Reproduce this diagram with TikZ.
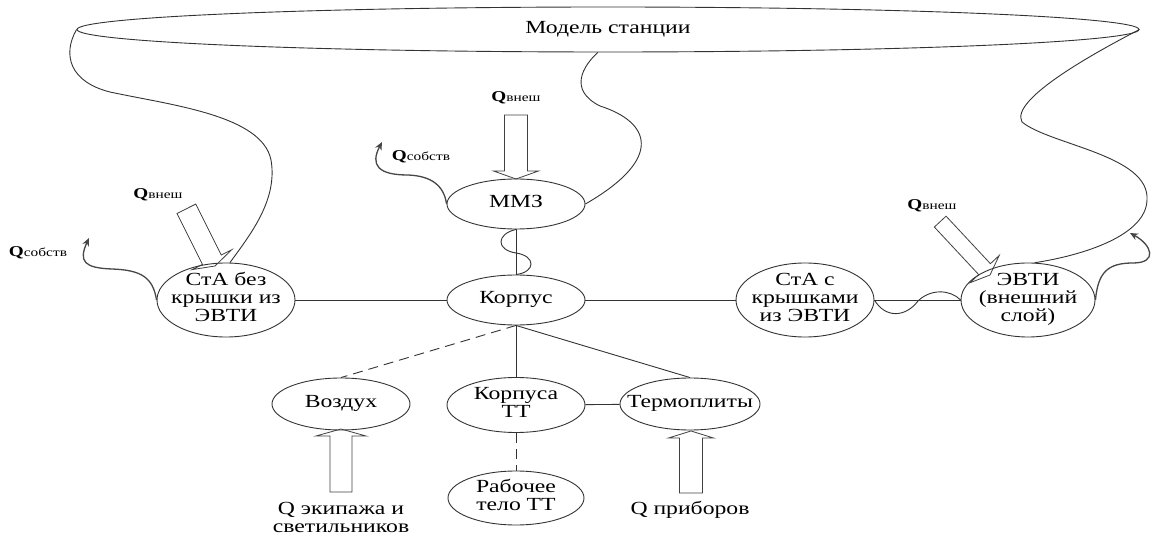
\documentclass[tikz,border=0pt]{standalone}
\usepackage{graphicx}
\usepackage{fontspec}
\setmainfont{Liberation Serif}
\usetikzlibrary{shapes.geometric,arrows.meta}
\newcommand\sx[1]{\scalebox{1.28}[1]{\begin{tabular}{@{}c@{}}#1\end{tabular}}}
\newcommand\qlab[1]{\scalebox{1.28}[1]{{\fontsize{15}{15}\selectfont\bfseries Q}{\fontsize{12}{12}\selectfont #1}}}
\newcommand\barrow[7]{% name, tip, angle, length, shaft half, head half, head length
  \coordinate (#1) at #2;
  \draw[barr, shift={(#1)}, rotate=#3] (0,0) -- (-#7,#6) -- (-#7,#5) -- (-#4,#5) -- (-#4,-#5) -- (-#7,-#5) -- (-#7,-#6) -- cycle;}
\begin{document}
\begin{tikzpicture}[x=1pt,y=-1pt,
  ell/.style={draw=black!80, line width=0.9pt, ellipse, inner sep=0pt},
  txt/.style={font=\fontsize{18.5}{18}\selectfont, inner sep=0pt, text=black},
  qtxt/.style={inner sep=0pt, text=black},
  link/.style={draw=black!80, line width=0.9pt},
  dlink/.style={link, dash pattern=on 10pt off 6pt},
  qself/.style={draw=black!72, line width=1.3pt, -{Stealth[length=8pt,width=7pt]}},
  barr/.style={draw=black!75, line width=0.8pt, line join=miter},
  ]
\useasboundingbox (0,0) rectangle (1152,537);

% nodes
\node[ell, minimum width=1062, minimum height=45, label={[txt]center:\sx{Модель станции}}] (model) at (608,29.5) {};
\node[ell, minimum width=138, minimum height=50, label={[txt]center:\sx{ММЗ}}] (mmz) at (516,204) {};
\node[ell, minimum width=138, minimum height=50, label={[txt]center:\sx{Корпус}}] (korpus) at (516,300) {};
\node[ell, minimum width=138, minimum height=74, label={[txt]center:\sx{СтА без\\крышки из\\ЭВТИ}}] (sta1) at (226,300) {};
\node[ell, minimum width=138, minimum height=74, label={[txt]center:\sx{СтА с\\крышками\\из ЭВТИ}}] (sta2) at (805,300) {};
\node[ell, minimum width=134, minimum height=74, label={[txt]center:\sx{ЭВТИ\\(внешний\\слой)}}] (evti) at (1028,300) {};
\node[ell, minimum width=138, minimum height=52, label={[txt]center:\sx{Воздух}}] (vozduh) at (341,404) {};
\node[ell, minimum width=138, minimum height=55, label={[txt]center:\sx{Корпуса\\ТТ}}] (korpTT) at (516,405) {};
\node[ell, minimum width=140, minimum height=52, label={[txt]center:\sx{Термоплиты}}] (termo) at (690,404) {};
\node[ell, minimum width=136, minimum height=54, label={[txt]center:\sx{Рабочее\\тело ТТ}}] (rabTT) at (516,498) {};

% labels
\node[qtxt] (qv1) at (516,98) {\qlab{внеш}};
\node[qtxt] (qv2) at (158,195) {\qlab{внеш}};
\node[qtxt] (qv3) at (932,206) {\qlab{внеш}};
\node[qtxt] (qs1) at (38,253) {\qlab{собств}};
\node[qtxt] (qs2) at (421,157) {\qlab{собств}};
\node[txt] (qcrew) at (341,519.5) {\sx{Q экипажа и\\светильников}};
\node[txt] (qdev) at (690,511) {\sx{Q приборов}};

% connectors
\draw[link] (sta1) -- (korpus);
\draw[link] (korpus) -- (sta2);
\draw[link] (sta2) -- (evti);
\draw[link] (mmz) -- (korpus);
\draw[link] (sta2.east) .. controls (885,318) and (905,318) .. (918,301)
  .. controls (930,289) and (950,289) .. (evti.west);
\draw[link] (mmz.south) .. controls (496,234) and (496,250) .. (516,253)
  .. controls (536,256) and (536,272) .. (korpus.north);
\draw[dlink] (korpus.south) -- (vozduh.north);
\draw[link] (korpus.south) -- (korpTT.north);
\draw[link] (korpus.south) -- (termo.north);
\draw[link] (korpTT) -- (termo);
\draw[dlink] (korpTT) -- (rabTT);

% curves from the station model
\draw[link] (model.west) .. controls (62,55) and (70,82) .. (110,92)
  .. controls (170,105) and (262,115) .. (271,160)
  .. controls (278,200) and (250,235) .. (sta1.84);
\draw[link] (model.246) .. controls (583,66) and (568,90) .. (600,106)
  .. controls (650,122) and (665,158) .. (mmz.east);
\draw[link] (model.east) .. controls (1100,50) and (1009,99) .. (1022,122)
  .. controls (1050,145) and (1150,155) .. (1147,200)
  .. controls (1146,235) and (1085,255) .. (evti.80);

% own heat
\draw[qself] (sta1.west) .. controls (153,278) and (142,270) .. (112,269)
  .. controls (85,268) and (78,262) .. (89,238);
\draw[qself] (mmz.west) .. controls (444,186) and (432,176) .. (408,175)
  .. controls (378,175) and (370,165) .. (382,142);
\draw[qself] (evti.east) .. controls (1098,272) and (1108,263) .. (1133,263)
  .. controls (1158,263) and (1152,245) .. (1130,233);

% block arrows
\barrow{a1}{(516,179)}{-90}{64}{11.5}{22.5}{8}
\barrow{a2}{(215,266)}{-63.4}{64}{10.5}{22}{7}
\barrow{a3}{(990,275)}{-47}{73}{8}{20}{8}
\barrow{a4}{(341,429)}{90}{63}{11}{25}{7}
\barrow{a5}{(691,431)}{90}{62}{11.5}{22.5}{7}
\end{tikzpicture}
\end{document}
